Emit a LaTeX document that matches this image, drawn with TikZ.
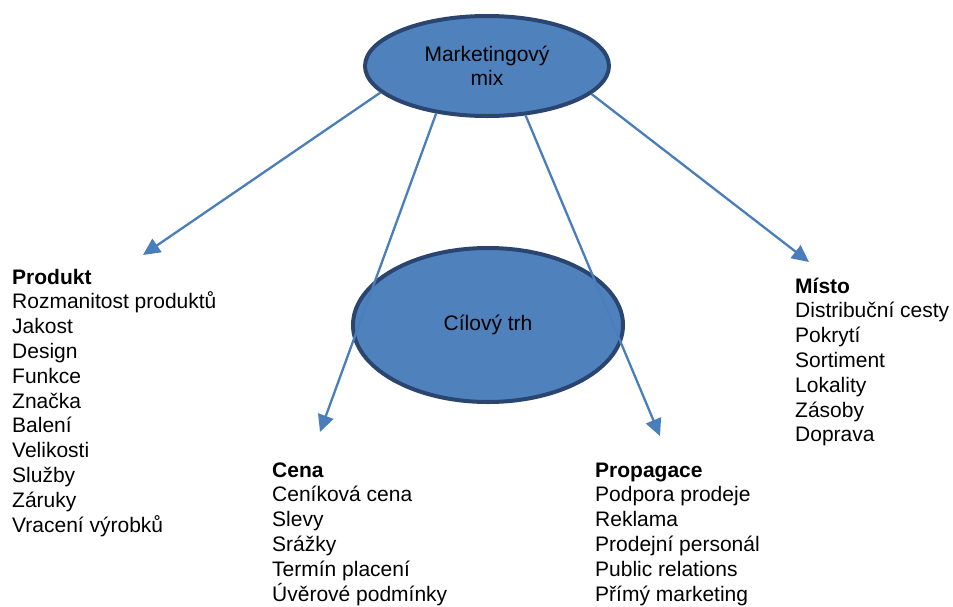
\documentclass[tikz,border=0pt]{standalone}
\usepackage{fontspec}
\setmainfont{Liberation Sans}
\usetikzlibrary{shapes.geometric,arrows.meta}
\definecolor{ellfill}{HTML}{4F81BD}
\definecolor{ellline}{HTML}{2A4670}
\definecolor{arrcol}{HTML}{4A7EBB}
\tikzset{
  ellbox/.style={ellipse, draw=ellline, fill=ellfill, line width=4pt, inner sep=0pt,
    font=\fontsize{21}{24}\selectfont, align=center},
  conn/.style={draw=arrcol, line width=2.3pt, -{Triangle[length=17pt,width=16pt]}},
  listbox/.style={anchor=base west, inner sep=0pt, font=\fontsize{21}{24.8}\selectfont}
}
\newcommand{\itemlist}[1]{\begin{tabular}[t]{@{}l@{}}#1\end{tabular}}
\begin{document}
\begin{tikzpicture}[x=1pt,y=-1pt]
\useasboundingbox (0,0) rectangle (953,606);
\node[ellbox, minimum width=270pt, minimum height=154pt] (ct) at (488,325) {Cílový trh};
\node[ellbox, minimum width=244pt, minimum height=100pt] (mm) at (487,66) {Marketingový\\mix};
\coordinate (tp) at (143,255);
\coordinate (tc) at (320,432);
\coordinate (tg) at (660,436);
\coordinate (tm) at (809,262);
\draw[conn] (mm.194) -- (tp);
\draw[conn] (mm.223) -- (tc);
\draw[conn] (mm.308) -- (tg);
\draw[conn] (mm.345) -- (tm);
\node[listbox] (prod) at (12,284) {\itemlist{\textbf{Produkt}\\Rozmanitost produktů\\Jakost\\Design\\Funkce\\Značka\\Balení\\Velikosti\\Služby\\Záruky\\Vracení výrobků}};
\node[listbox] (cena) at (272,477) {\itemlist{\textbf{Cena}\\Ceníková cena\\Slevy\\Srážky\\Termín placení\\Úvěrové podmínky}};
\node[listbox] (prop) at (595,477) {\itemlist{\textbf{Propagace}\\Podpora prodeje\\Reklama\\Prodejní personál\\Public relations\\Přímý marketing}};
\node[listbox] (misto) at (795,293) {\itemlist{\textbf{Místo}\\Distribuční cesty\\Pokrytí\\Sortiment\\Lokality\\Zásoby\\Doprava}};
\end{tikzpicture}
\end{document}
